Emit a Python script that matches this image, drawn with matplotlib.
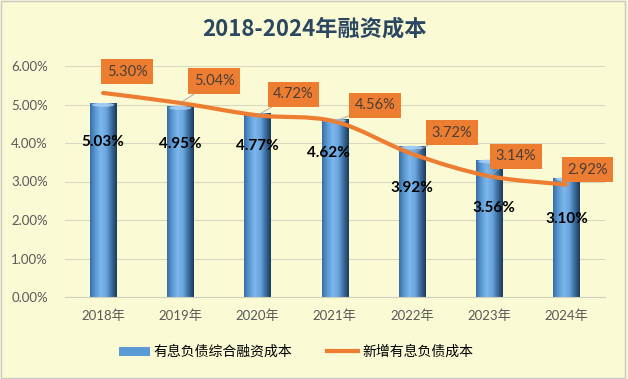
import numpy as np
import matplotlib.pyplot as plt
from matplotlib.path import Path
from matplotlib.patches import PathPatch, Ellipse, Rectangle, Patch
from matplotlib.colors import LinearSegmentedColormap
from matplotlib.lines import Line2D

plt.rcParams['font.family'] = ['Lato', 'Noto Sans CJK SC', 'DejaVu Sans']

years = ['2018年', '2019年', '2020年', '2021年', '2022年', '2023年', '2024年']
combined_cost = [5.03, 4.95, 4.77, 4.62, 3.92, 3.56, 3.10]   # 有息负债综合融资成本 (%)
new_debt_cost = [5.30, 5.04, 4.72, 4.56, 3.72, 3.14, 2.92]   # 新增有息负债成本 (%)

# label placement (pixels), hand tuned like the original
bar_lbl_dx = [0, 0, 0, -6, 0, 5, 0]
bar_lbl_dy = [-39, -38, -33, -34, -42, -48, -41]
box_dx = [24, 34, 36, 40, 40, 27, 21]
box_dy = [21, 22, 21, 16, 21, 20, 15]

bg = '#FAFAD4'
orange = '#ED7D31'
blue = '#5B9BD5'

fig = plt.figure(figsize=(6.28, 3.79), dpi=100, facecolor=bg)
ax = fig.add_axes([64.5 / 628, 82 / 379, 540.5 / 628, 231 / 379])
ax.set_facecolor(bg)

x = np.arange(len(years))
w = 0.34

# bars with a cylinder-like horizontal gradient
cyl = LinearSegmentedColormap.from_list(
    'cyl', ['#3A6EA5', '#5B9BD5', '#7DB6EA', '#6AA6E0', '#3D6F9F', '#1E3A5A'])
grad = np.linspace(0, 1, 64).reshape(1, -1)
bars = ax.bar(x, combined_cost, width=w, color=blue, zorder=2)
for b, v in zip(bars, combined_cost):
    im = ax.imshow(grad, extent=[b.get_x(), b.get_x() + w, 0, v], aspect='auto',
                   cmap=cyl, zorder=2.1)
    im.set_clip_path(b)
    ax.add_patch(Ellipse((b.get_x() + w / 2, v - 0.04), w * 0.85, 0.1,
                         facecolor='#A9D3F5', edgecolor='none', alpha=0.8, zorder=2.2))

# smoothed line (Catmull-Rom drawn as cubic Bezier path)
pts = np.column_stack([x, new_debt_cost]).astype(float)
verts = [tuple(pts[0])]
codes = [Path.MOVETO]
for i in range(len(pts) - 1):
    p0 = pts[max(i - 1, 0)]
    p1, p2 = pts[i], pts[i + 1]
    p3 = pts[min(i + 2, len(pts) - 1)]
    c1 = p1 + (p2 - p0) / 6
    c2 = p2 - (p3 - p1) / 6
    verts += [tuple(c1), tuple(c2), tuple(p2)]
    codes += [Path.CURVE4] * 3
ax.add_patch(PathPatch(Path(verts, codes), facecolor='none', edgecolor=orange,
                       lw=3, capstyle='round', zorder=3))

# bar value labels
for xi, v, dx, dy in zip(x, combined_cost, bar_lbl_dx, bar_lbl_dy):
    ax.annotate(f'{v:.2f}%', (xi, v), xytext=(dx, dy), textcoords='offset pixels',
                ha='center', va='center', fontsize=11, fontweight='bold',
                color='black', zorder=5)

# line value labels in orange boxes
for i, (xi, v) in enumerate(zip(x, new_debt_cost)):
    ax.annotate(f'{v:.2f}%', (xi, v), xytext=(box_dx[i], box_dy[i]),
                textcoords='offset pixels', ha='center', va='center',
                fontsize=10.5, color='#4A3F38', zorder=6,
                bbox=dict(boxstyle='square,pad=0.38', fc=orange, ec='none'),
                arrowprops=dict(arrowstyle='-', color='#A0A0A0', lw=0.6,
                                shrinkA=0, shrinkB=0) if i > 0 else None)

ax.set_xlim(-0.5, len(years) - 0.5)
ax.set_ylim(0, 6)
ax.set_yticks(np.arange(0, 7, 1))
ax.set_yticklabels([f'{t:.2f}%' for t in np.arange(0, 7, 1)])
ax.set_xticks(x)
ax.set_xticklabels(years)
ax.tick_params(axis='both', length=0, labelsize=9.5, colors='#595959')
ax.tick_params(axis='y', pad=12)
ax.tick_params(axis='x', pad=9)
ax.grid(axis='y', color='#D8D8C0', lw=0.8, zorder=0)
ax.set_axisbelow(True)
for s in ['top', 'right', 'left']:
    ax.spines[s].set_visible(False)
ax.spines['bottom'].set_color('#D0D0C0')

fig.text(0.5, 1 - 29 / 379, '2018-2024年融资成本', ha='center', va='center',
         fontsize=16, fontweight='bold', color='#2B4761',
         family=['Noto Sans CJK SC', 'DejaVu Sans'])

handles = [Patch(facecolor=blue, edgecolor='none'),
           Line2D([0], [0], color=orange, lw=3)]
fig.legend(handles, ['有息负债综合融资成本', '新增有息负债成本'],
           loc='center', bbox_to_anchor=(296 / 628, 1 - 352 / 379), ncol=2,
           frameon=False, handlelength=2.2, handleheight=0.6,
           columnspacing=2.5, handletextpad=0.3,
           prop={'family': ['Noto Sans CJK SC', 'DejaVu Sans'], 'size': 10})

fig.add_artist(Rectangle((0.002, 0.003), 0.994, 0.994, transform=fig.transFigure,
                         fill=False, ec='#C8C8C8', lw=1))

fig.savefig('out.png', dpi=100, facecolor=bg)
